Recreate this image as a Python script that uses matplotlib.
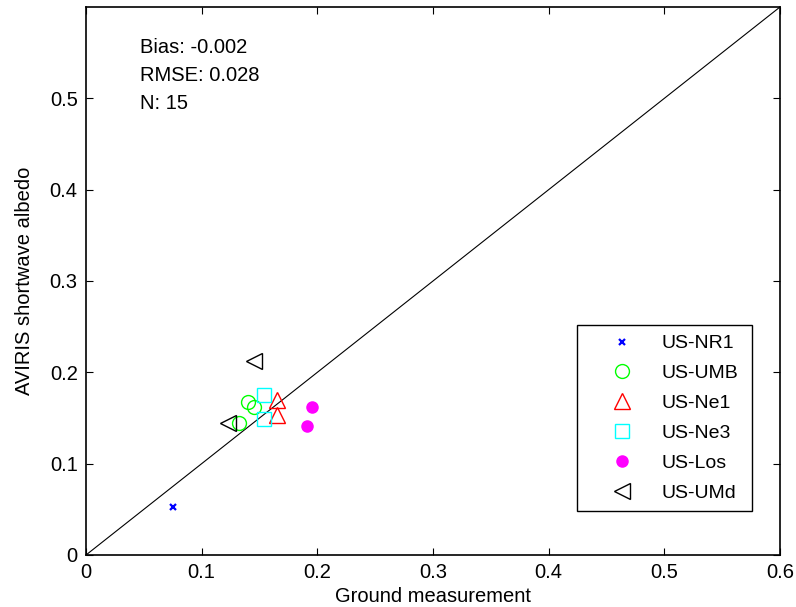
import matplotlib
matplotlib.use("Agg")
import matplotlib.pyplot as plt

plt.rcParams["font.family"] = ["Liberation Sans", "DejaVu Sans"]
plt.rcParams["font.size"] = 14.5

# ground measurement (x) vs AVIRIS albedo (y), per site
nr1_x = [0.075]
nr1_y = [0.053]
umb_x = [0.140, 0.145, 0.132]
umb_y = [0.168, 0.162, 0.145]
ne1_x = [0.165, 0.165]
ne1_y = [0.170, 0.153]
ne3_x = [0.154, 0.154]
ne3_y = [0.175, 0.149]
los_x = [0.195, 0.191]
los_y = [0.162, 0.141]
umd_x = [0.145, 0.123]
umd_y = [0.212, 0.145]

stats_text = ["Bias: -0.002", "RMSE: 0.028", "N: 15"]
x_ticks = [0, 0.1, 0.2, 0.3, 0.4, 0.5, 0.6]
y_ticks = [0, 0.1, 0.2, 0.3, 0.4, 0.5]

fig = plt.figure(figsize=(7.96, 6.07), dpi=100)
ax = fig.add_axes([86 / 796, 1 - 555 / 607, 694 / 796, 548 / 607])

ax.plot([0, 0.6], [0, 0.6], color="black", lw=0.8)

ax.plot(nr1_x, nr1_y, "x", color="blue", ms=5, mew=1.6, label="US-NR1")
ax.plot(umb_x, umb_y, "o", color="#00ff00", mfc="none", ms=10, mew=1.0, label="US-UMB")
ax.plot(ne1_x, ne1_y, "^", color="red", mfc="none", ms=11, mew=1.0, label="US-Ne1")
ax.plot(ne3_x, ne3_y, "s", color="cyan", mfc="none", ms=10, mew=1.0, label="US-Ne3")
ax.plot(los_x, los_y, "o", color="magenta", ms=8, mew=1.0, label="US-Los")
ax.plot(umd_x, umd_y, "<", color="black", mfc="none", ms=11, mew=1.0, label="US-UMd")

for i, s in enumerate(stats_text):
    ax.text(0.047, 0.556 - i * 0.0307, s, ha="left", va="center")

ax.set_xlim(0, 0.6)
ax.set_ylim(0, 0.6)
ax.set_xticks(x_ticks)
ax.set_yticks(y_ticks)
ax.set_xticklabels(["0", "0.1", "0.2", "0.3", "0.4", "0.5", "0.6"])
ax.set_yticklabels(["0", "0.1", "0.2", "0.3", "0.4", "0.5"])
ax.tick_params(direction="in", length=5, width=0.8, top=True, right=True, pad=6)
for sp in ax.spines.values():
    sp.set_linewidth(1.2)

ax.set_xlabel("Ground measurement", labelpad=3)
ax.set_ylabel("AVIRIS shortwave albedo", labelpad=11)

leg = ax.legend(loc="upper left", bbox_to_anchor=(0.7075, 0.0785, 0.2525, 0.3412),
                mode="expand", fancybox=False, framealpha=1, edgecolor="black",
                fontsize=14, labelspacing=0.63, handlelength=3.6, handletextpad=0.25,
                borderpad=0.5, borderaxespad=0, numpoints=1)
leg.get_frame().set_linewidth(1.0)

fig.savefig("out.png", dpi=100)
